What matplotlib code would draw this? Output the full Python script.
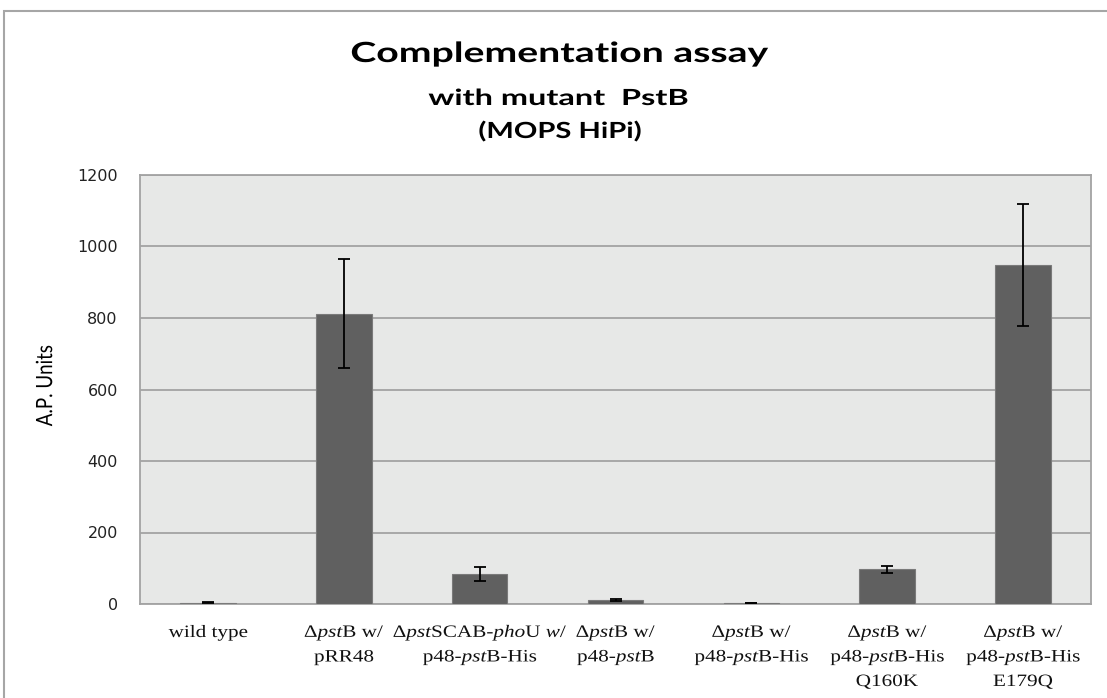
import numpy as np
import matplotlib
matplotlib.use("Agg")
import matplotlib.pyplot as plt
from matplotlib.patches import Rectangle, PathPatch
from matplotlib.textpath import TextPath
from matplotlib.font_manager import FontProperties
from matplotlib.transforms import Affine2D

# serif labels with italic gene names
plt.rcParams['mathtext.fontset'] = 'custom'
plt.rcParams['mathtext.rm'] = 'Liberation Serif'
plt.rcParams['mathtext.it'] = 'Liberation Serif:italic'

strains = [
    "wild type",
    "Δ$\\it{pst}$B w/\npRR48",
    "Δ$\\it{pst}$SCAB-$\\it{pho}$U $\\it{w/}$\np48-$\\it{pst}$B-His",
    "Δ$\\it{pst}$B w/\np48-$\\it{pst}$B",
    "Δ$\\it{pst}$B w/\np48-$\\it{pst}$B-His",
    "Δ$\\it{pst}$B w/\np48-$\\it{pst}$B-His\nQ160K",
    "Δ$\\it{pst}$B w/\np48-$\\it{pst}$B-His\nE179Q",
]
ap_units = [4, 812, 83, 10, 3, 97, 948]
ap_err = [1, 153, 20, 3, 1, 9, 170]
title_lines = ["Complementation assay", "with mutant  PstB", "(MOPS HiPi)"]

W, H = 1107, 698
fig = plt.figure(figsize=(W / 100, H / 100), dpi=100)
ax = fig.add_axes([140 / W, 1 - 604 / H, 951 / W, 429 / H])


def wide_text(s, x, y, size, prop, sx=1.22, rot=0, color='black', va='baseline'):
    """text drawn as a path, stretched sideways by sx (x, y in pixels)"""
    tp = TextPath((0, 0), s, size=size, prop=prop)
    bb = tp.get_extents()
    k = fig.dpi / 72
    dy = -(bb.y0 + bb.height / 2) if va == 'center' else 0
    tr = (Affine2D().translate(-(bb.x0 + bb.width / 2), dy)
          .scale(k).rotate_deg(rot).scale(sx, 1).translate(x, y))
    fig.add_artist(PathPatch(tp, transform=tr, facecolor=color,
                             edgecolor='none'))


# chart frame
fig.patches.append(Rectangle((4 / W, -0.01), 1.1, 1 - 11 / H + 0.01,
                             transform=fig.transFigure, fill=False,
                             edgecolor='#a6a6a6', linewidth=1.5))

x = np.arange(len(strains))
ax.set_facecolor('#e7e8e7')
ax.bar(x, ap_units, width=0.41, color='#606060', edgecolor='#7a7a7a',
       linewidth=0.8, zorder=3)
ax.errorbar(x, ap_units, yerr=ap_err, fmt='none', ecolor='black',
            elinewidth=1.3, capsize=4.3, capthick=1.3, zorder=4)

ax.set_xlim(-0.5, len(strains) - 0.5)
ax.set_ylim(0, 1200)
ax.set_yticks(range(0, 1201, 200))
ax.yaxis.grid(True, color='#a3a3a3', linewidth=1.3, zorder=0)
ax.set_axisbelow(True)
for s in ax.spines.values():
    s.set_color('#a3a3a3')
    s.set_linewidth(1.3)
ax.tick_params(axis='both', length=0)
ax.tick_params(axis='y', pad=16, labelsize=11.5, labelcolor='#222222')
ax.set_xticks(x)
ax.set_xticklabels([])

# category labels under the bars
serif = FontProperties(family='Liberation Serif')
for xi, lab in zip(x, strains):
    px = ax.transData.transform((xi, 0))[0]
    for j, line in enumerate(lab.split("\n")):
        wide_text(line, px, H - 637 - 24.5 * j, 12.5, serif, color='#111111')

# axis title
wide_text("A.P. Units", 44, H - 386, 13.5, FontProperties(family='Lato'),
          sx=1.2, rot=90, va='center')

# chart title
bold = FontProperties(family='Lato', weight='bold')
wide_text(title_lines[0], 560, H - 62, 20, bold, sx=1.41)
wide_text(title_lines[1], 558, H - 105, 16, bold, sx=1.46)
wide_text(title_lines[2], 560, H - 138, 16, bold, sx=1.31)

fig.savefig("out.png", dpi=100)
